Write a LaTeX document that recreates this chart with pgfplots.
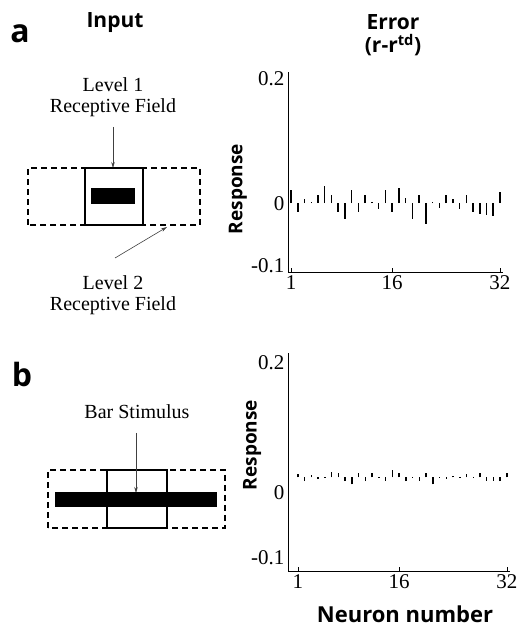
\documentclass[border=0pt]{standalone}
\usepackage{fontspec}
\setmainfont{Liberation Serif}
\newfontfamily\labelfont{Open Sans}
\usepackage{pgfplots}
\usepackage{pgfplotstable}
\pgfplotsset{compat=1.18}
\usetikzlibrary{arrows.meta}

% panel a: error per neuron
\pgfplotstableread{
n v
1 0.021
2 -0.014
3 0.006
4 0.002
5 0.013
6 0.028
7 0.013
8 -0.014
9 -0.025
10 0.021
11 -0.014
12 0.013
13 0.002
14 -0.009
15 0.021
16 -0.014
17 0.024
18 0.009
19 -0.026
20 0.013
21 -0.033
22 0.002
23 -0.008
24 0.013
25 0.006
26 -0.009
27 0.013
28 -0.014
29 -0.017
30 -0.019
31 -0.021
32 0.018
}\erra

% panel b: segment ends (low, high) per neuron
\pgfplotstableread{
n lo hi
1 0.024 0.029
2 0.018 0.024
3 0.024 0.028
4 0.021 0.024
5 0.023 0.025
6 0.024 0.032
7 0.024 0.030
8 0.018 0.024
9 0.013 0.024
10 0.024 0.031
11 0.018 0.024
12 0.024 0.030
13 0.023 0.025
14 0.019 0.024
15 0.024 0.035
16 0.024 0.030
17 0.018 0.024
18 0.023 0.025
19 0.019 0.024
20 0.024 0.030
21 0.013 0.024
22 0.023 0.025
23 0.022 0.024
24 0.024 0.026
25 0.023 0.025
26 0.024 0.029
27 0.023 0.025
28 0.024 0.030
29 0.019 0.024
30 0.019 0.024
31 0.018 0.024
32 0.024 0.030
}\errb

\pgfplotsset{
  errstyle/.style={
    scale only axis,
    clip=false,
    axis x line*=bottom,
    axis y line*=left,
    axis line style={-, line width=0.9pt},
    xtick={1,16,32}, xticklabels={1,16,32},
    ytick={-0.1,0,0.2}, yticklabels={-0.1,0,0.2},
    ticklabel style={font=\fontsize{21}{21}\selectfont},
    tick align=inside,
    major tick length=4pt,
    xtick style={draw=black, line width=0.8pt},
    ytick style={draw=none},
    ylabel={Response},
    ylabel style={font=\labelfont\bfseries\fontsize{19}{19}\selectfont, anchor=center},
  }
}

\tikzset{
  callout/.style={draw=black!75, line width=0.6pt, -{Stealth[length=6pt,width=3.5pt]}},
  difont/.style={font=\fontsize{20}{21}\selectfont, align=center},
  hdfont/.style={font=\labelfont\bfseries\fontsize{21}{21}\selectfont},
}

\begin{document}
\begin{tikzpicture}
\path[use as bounding box] (0pt,0pt) rectangle (525pt,627pt);

\begin{axis}[errstyle,
  at={(288pt,355pt)}, anchor=south west,
  width=215pt, height=200pt,
  xmin=0.55, xmax=32.45, ymin=-0.11, ymax=0.21,
  ylabel style={at={(axis description cs:-0.233,0.415)}},
]
\addplot[ycomb, black, line width=1.5pt, mark=none] table[x=n, y=v] {\erra};
\end{axis}

\begin{axis}[errstyle,
  at={(288pt,56pt)}, anchor=south west,
  width=222pt, height=218pt,
  xmin=-0.48, xmax=32.45, ymin=-0.12, ymax=0.215,
  ylabel style={at={(axis description cs:-0.162,0.578)}},
  xlabel={Neuron number},
  xlabel style={at={(axis description cs:0.527,-0.2)}, anchor=center,
    font=\labelfont\bfseries\fontsize{22}{22}\selectfont},
]
\addplot[draw=none, mark=none,
  error bars/.cd, y dir=plus, y explicit, error mark=none,
  error bar style={draw=black, solid, line width=1.5pt}]
  table[x=n, y=lo, y error expr=\thisrow{hi}-\thisrow{lo}] {\errb};
\end{axis}

\begin{scope}[x=1pt, y=1pt]
% headings
\node[font=\labelfont\bfseries\fontsize{32}{32}\selectfont] at (20,593) {a};
\node[hdfont] at (115,604) {Input};
\node[hdfont] at (393,605) {Error};
\node[hdfont] at (393,582) {(r-r\textsuperscript{td})};

% panel a sketch
\node[difont] at (113,530) {Level 1\\Receptive Field};
\draw[callout] (113,500) -- (113,459);
\draw[line width=1.2pt, dash pattern=on 6pt off 4pt] (28,402) rectangle (200,459);
\draw[line width=1.2pt] (85,402) rectangle (143,459);
\fill (91,423) rectangle (135,439);
\draw[callout] (115,369) -- (167,400);
\node[difont] at (113,332) {Level 2\\Receptive Field};

% panel b sketch
\node[font=\labelfont\bfseries\fontsize{32}{32}\selectfont] at (22,252) {b};
\node[difont] at (137,215) {Bar Stimulus};
\draw[line width=1.2pt, dash pattern=on 6pt off 4pt] (48,99) rectangle (225,157);
\draw[line width=1.2pt] (107,99) rectangle (167,157);
\draw[callout] (136,194) -- (136,134);
\fill (55,120) rectangle (217,135);
\end{scope}
\end{tikzpicture}
\end{document}
